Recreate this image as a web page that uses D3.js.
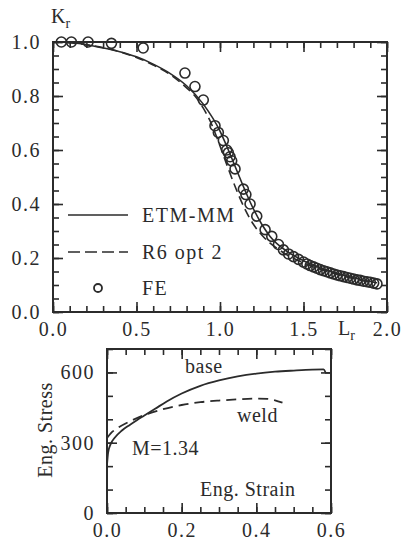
<!DOCTYPE html>
<html>
<head>
<meta charset="utf-8">
<script src="https://cdn.jsdelivr.net/npm/d3@7"></script>
<style>
  body { margin: 0; background: #fff; }
  svg { display: block; }
  svg text { font-family: "Liberation Serif", "Times New Roman", Tinos, "DejaVu Serif", serif !important; fill: #2b2b2b; }
  .domain { display: none; }
  .tick line { stroke: #2b2b2b; stroke-width: 1.6; }
  .tick text { font-size: 20px; letter-spacing: 1.5px; }
</style>
</head>
<body>
<div id="root"></div>
<script>
'use strict';

// failure assessment diagram, FE results
var feL  = [0.05, 0.11, 0.21, 0.35, 0.54, 0.79, 0.85, 0.90, 0.97, 0.99, 1.02, 1.04, 1.05, 1.06, 1.07, 1.09,
            1.14, 1.155, 1.18, 1.22, 1.27, 1.31, 1.35, 1.38, 1.41, 1.44, 1.47, 1.50, 1.52, 1.54, 1.56, 1.58,
            1.60, 1.62, 1.64, 1.66, 1.68, 1.70, 1.72, 1.74, 1.76, 1.78, 1.80, 1.82, 1.84, 1.86, 1.88, 1.90,
            1.92, 1.94];
var feKr = [1.0, 1.0, 1.0, 0.995, 0.978, 0.885, 0.835, 0.785, 0.69, 0.665, 0.635, 0.60, 0.59, 0.575, 0.56, 0.53,
            0.455, 0.435, 0.40, 0.355, 0.305, 0.28, 0.25, 0.23, 0.215, 0.205, 0.195, 0.185, 0.178, 0.172, 0.167, 0.162,
            0.157, 0.153, 0.149, 0.145, 0.141, 0.137, 0.134, 0.131, 0.128, 0.125, 0.122, 0.119, 0.117, 0.114, 0.112, 0.110,
            0.107, 0.104];

// ETM-MM curve
var etmL  = [0, 0.1, 0.2, 0.3, 0.4, 0.5, 0.6, 0.7, 0.8, 0.9, 1.0, 1.05, 1.1, 1.15, 1.2, 1.25, 1.3, 1.4, 1.5, 1.6, 1.7, 1.8, 1.9, 1.94];
var etmKr = [1.0, 0.998, 0.99, 0.978, 0.964, 0.945, 0.918, 0.884, 0.838, 0.77, 0.67, 0.6, 0.525, 0.45, 0.382, 0.325, 0.28, 0.225, 0.19, 0.163, 0.143, 0.127, 0.113, 0.108];

// R6 option 2 curve
var r6L  = [0, 0.2, 0.4, 0.6, 0.7, 0.8, 0.85, 0.9, 0.95, 1.0, 1.05, 1.1, 1.15, 1.2, 1.25, 1.3, 1.35, 1.4, 1.5, 1.6, 1.7, 1.8, 1.9];
var r6Kr = [1.0, 0.99, 0.964, 0.915, 0.88, 0.83, 0.8, 0.755, 0.695, 0.615, 0.53, 0.45, 0.38, 0.325, 0.285, 0.255, 0.232, 0.212, 0.182, 0.158, 0.139, 0.123, 0.11];

// stress-strain curves (inset)
var baseStrain = [0, 0.003, 0.01, 0.02, 0.04, 0.06, 0.08, 0.1, 0.13, 0.16, 0.2, 0.25, 0.3, 0.35, 0.4, 0.45, 0.5, 0.55, 0.58, 0.585];
var baseStress = [205, 258, 295, 320, 352, 375, 396, 416, 446, 476, 510, 543, 566, 583, 595, 603, 608, 612, 613, 601];
var weldStrain = [0, 0.01, 0.03, 0.06, 0.1, 0.15, 0.2, 0.25, 0.3, 0.35, 0.4, 0.43, 0.45, 0.47];
var weldStress = [320, 340, 364, 390, 418, 443, 461, 473, 480, 485, 488, 487, 481, 471];

var xTicks = [0, 0.5, 1.0, 1.5, 2.0];
var yTicks = [0, 0.2, 0.4, 0.6, 0.8, 1.0];
var sxTicks = [0, 0.2, 0.4, 0.6];
var syTicks = [0, 300, 600];

var W = 404, H = 543;
var ink = '#2b2b2b';
var serif = '"Liberation Serif", "Times New Roman", Tinos, "DejaVu Serif", serif';

var svg = d3.select('#root').append('svg')
  .attr('width', W).attr('height', H)
  .attr('font-family', serif);

svg.append('rect').attr('width', W).attr('height', H).attr('fill', '#fff');

function range(a, b, step) {
  var out = [];
  var n = Math.round((b - a) / step);
  for (var k = 0; k <= n; k++) out.push(+(a + k * step).toFixed(4));
  return out;
}

// inward ticks on all four sides, labels on left and bottom
function frame(g, x, y, opt) {
  var w = x.range()[1] - x.range()[0];
  var h = y.range()[0] - y.range()[1];

  g.append('g').attr('transform', `translate(0,${h})`)
    .call(d3.axisBottom(x).tickValues(opt.xMinor).tickSize(-6).tickFormat(''));
  g.append('g').attr('transform', `translate(0,${h})`)
    .call(d3.axisBottom(x).tickValues(opt.xMajor).tickSize(-10).tickPadding(10).tickFormat(opt.xFmt));
  g.append('g')
    .call(d3.axisTop(x).tickValues(opt.xMinor).tickSize(-6).tickFormat(''));
  g.append('g')
    .call(d3.axisTop(x).tickValues(opt.xMajor).tickSize(-10).tickFormat(''));

  g.append('g')
    .call(d3.axisLeft(y).tickValues(opt.yMinor).tickSize(-6).tickFormat(''));
  g.append('g')
    .call(d3.axisLeft(y).tickValues(opt.yMajor).tickSize(-10).tickPadding(12).tickFormat(opt.yFmt));
  g.append('g').attr('transform', `translate(${w},0)`)
    .call(d3.axisRight(y).tickValues(opt.yMinor).tickSize(-6).tickFormat(''));
  g.append('g').attr('transform', `translate(${w},0)`)
    .call(d3.axisRight(y).tickValues(opt.yMajor).tickSize(-10).tickFormat(''));

  g.selectAll('g').attr('font-family', serif);

  g.append('rect')
    .attr('width', w).attr('height', h)
    .attr('fill', 'none').attr('stroke', ink).attr('stroke-width', 2);
}

// ---- main plot ----
var x = d3.scaleLinear().domain([0, 2]).range([0, 334]);
var y = d3.scaleLinear().domain([0, 1]).range([270, 0]);
var g = svg.append('g').attr('transform', 'translate(53,42)');

frame(g, x, y, {
  xMinor: range(0, 2, 0.1), xMajor: xTicks, xFmt: d3.format('.1f'),
  yMinor: range(0, 1, 0.05), yMajor: yTicks, yFmt: d3.format('.1f')
});

var line = d3.line().x(d => x(d[0])).y(d => y(d[1])).curve(d3.curveMonotoneX);

g.append('path')
  .datum(d3.zip(etmL, etmKr))
  .attr('d', line)
  .attr('fill', 'none').attr('stroke', ink).attr('stroke-width', 1.6);

g.append('path')
  .datum(d3.zip(r6L, r6Kr))
  .attr('d', line)
  .attr('fill', 'none').attr('stroke', ink).attr('stroke-width', 1.6)
  .attr('stroke-dasharray', '9,5');

g.selectAll('circle.fe')
  .data(d3.zip(feL, feKr))
  .enter().append('circle')
  .attr('class', 'fe')
  .attr('cx', d => x(d[0]))
  .attr('cy', d => y(d[1]))
  .attr('r', 5)
  .attr('fill', 'none').attr('stroke', ink).attr('stroke-width', 1.6);

// legend
var legend = svg.append('g');
legend.append('line').attr('x1', 68).attr('x2', 128).attr('y1', 215).attr('y2', 215)
  .attr('stroke', ink).attr('stroke-width', 1.6);
legend.append('line').attr('x1', 68).attr('x2', 128).attr('y1', 252).attr('y2', 252)
  .attr('stroke', ink).attr('stroke-width', 1.6).attr('stroke-dasharray', '12,5');
legend.append('circle').attr('cx', 98).attr('cy', 288).attr('r', 4)
  .attr('fill', 'none').attr('stroke', ink).attr('stroke-width', 1.8);
var legendText = ['ETM-MM', 'R6 opt 2', 'FE'];
legend.selectAll('text').data(legendText).enter().append('text')
  .attr('x', 142)
  .attr('y', (d, i) => 222 + i * 36.5)
  .attr('font-size', 20)
  .attr('letter-spacing', 1.5)
  .text(d => d);

// axis titles
var kr = svg.append('text').attr('x', 51).attr('y', 23).attr('font-size', 20);
kr.append('tspan').text('K');
kr.append('tspan').attr('font-size', 14).attr('dy', 5).text('r');

var lr = svg.append('text').attr('x', 338).attr('y', 335).attr('font-size', 20);
lr.append('tspan').text('L');
lr.append('tspan').attr('font-size', 14).attr('dy', 5).text('r');

// ---- inset: stress-strain ----
var sx = d3.scaleLinear().domain([0, 0.6]).range([0, 224]);
var sy = d3.scaleLinear().domain([0, 700]).range([164, 0]);
var s = svg.append('g').attr('transform', 'translate(107,349)');

frame(s, sx, sy, {
  xMinor: range(0, 0.6, 0.05), xMajor: sxTicks, xFmt: d3.format('.1f'),
  yMinor: range(0, 700, 100), yMajor: syTicks, yFmt: d3.format('d')
});

var sline = d3.line().x(d => sx(d[0])).y(d => sy(d[1])).curve(d3.curveMonotoneX);

s.append('path')
  .datum(d3.zip(baseStrain, baseStress))
  .attr('d', sline)
  .attr('fill', 'none').attr('stroke', ink).attr('stroke-width', 1.8);

s.append('path')
  .datum(d3.zip(weldStrain, weldStress))
  .attr('d', sline)
  .attr('fill', 'none').attr('stroke', ink).attr('stroke-width', 1.8)
  .attr('stroke-dasharray', '10,6');

svg.append('text').attr('x', 185).attr('y', 373).attr('font-size', 20).attr('letter-spacing', 0.5).text('base');
svg.append('text').attr('x', 237).attr('y', 422).attr('font-size', 20).attr('letter-spacing', 0.5).text('weld');
svg.append('text').attr('x', 132).attr('y', 455).attr('font-size', 20).attr('letter-spacing', 0.5).text('M=1.34');
svg.append('text').attr('x', 200).attr('y', 496).attr('font-size', 20).attr('letter-spacing', 0.5).text('Eng. Strain');
svg.append('text')
  .attr('transform', 'translate(52,430) rotate(-90)')
  .attr('text-anchor', 'middle')
  .attr('font-size', 20).attr('letter-spacing', 0.5)
  .text('Eng. Stress');
</script>
</body>
</html>
